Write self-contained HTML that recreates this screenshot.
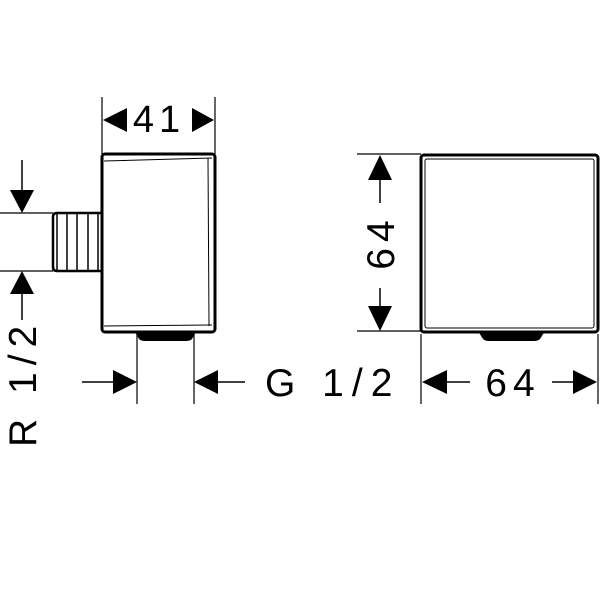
<!DOCTYPE html>
<html><head><style>body{margin:0;background:#fff}svg{display:block}</style></head>
<body>
<svg width="600" height="600" viewBox="0 0 600 600" xmlns="http://www.w3.org/2000/svg" font-family="Liberation Sans, sans-serif" fill="#000">
<g stroke="#000" fill="none">
<rect x="102" y="154" width="113" height="178" rx="3" stroke-width="3"/>
<line x1="104" y1="161" x2="212" y2="158" stroke-width="1"/>
<line x1="104" y1="326" x2="212" y2="325" stroke-width="1"/>
<line x1="208" y1="158" x2="209" y2="326" stroke-width="1"/>
<path d="M101 213 H57 Q53 213 53 217 V267 Q53 271 57 271 H101" stroke-width="2.5"/>
<line x1="57" y1="214" x2="57" y2="270" stroke-width="1.5"/>
<line x1="67" y1="214" x2="67" y2="270" stroke-width="1.5"/>
<line x1="77" y1="214" x2="77" y2="270" stroke-width="1.5"/>
<line x1="88" y1="214" x2="88" y2="270" stroke-width="1.5"/>
<line x1="98" y1="214" x2="98" y2="270" stroke-width="1.5"/>
<line x1="0" y1="213" x2="53" y2="213" stroke-width="1.2"/>
<line x1="0" y1="271" x2="53" y2="271" stroke-width="1.2"/>
<line x1="22" y1="160" x2="22" y2="195" stroke-width="1.5"/>
<line x1="22" y1="290" x2="22" y2="320" stroke-width="1.5"/>
<line x1="102" y1="97" x2="102" y2="154" stroke-width="1.2"/>
<line x1="215" y1="97" x2="215" y2="154" stroke-width="1.2"/>
<line x1="137" y1="334" x2="137" y2="404" stroke-width="1.2"/>
<line x1="194" y1="334" x2="194" y2="404" stroke-width="1.2"/>
<line x1="82" y1="382" x2="120" y2="382" stroke-width="1.5"/>
<line x1="210" y1="382" x2="245" y2="382" stroke-width="1.5"/>
<rect x="421" y="155" width="177" height="177" rx="3" stroke-width="3"/>
<rect x="425" y="159" width="169" height="169" rx="2" stroke-width="1"/>
<line x1="357" y1="154" x2="421" y2="154" stroke-width="1.2"/>
<line x1="357" y1="331" x2="421" y2="331" stroke-width="1.2"/>
<line x1="380" y1="175" x2="380" y2="203" stroke-width="1.5"/>
<line x1="380" y1="288" x2="380" y2="312" stroke-width="1.5"/>
<line x1="421" y1="334" x2="421" y2="404" stroke-width="1.2"/>
<line x1="598" y1="334" x2="598" y2="404" stroke-width="1.2"/>
<line x1="440" y1="382" x2="470" y2="382" stroke-width="1.5"/>
<line x1="552" y1="382" x2="580" y2="382" stroke-width="1.5"/>
</g>
<path d="M135 332 H196 L192 339 Q190 341 186 341 H145 Q141 341 139 339 Z"/>
<path d="M478 331 H545 L540 339 Q538 341 534 341 H489 Q485 341 483 339 Z"/>
<polygon points="103,120 127,108 127,132"/>
<polygon points="214,120 192,108 192,132"/>
<polygon points="22,213 10,190 34,190"/>
<polygon points="22,271 10,294 34,294"/>
<polygon points="137,382 113,370 113,394"/>
<polygon points="194,382 218,370 218,394"/>
<polygon points="380,155 368,180 392,180"/>
<polygon points="380,331 368,306 392,306"/>
<polygon points="422,382 447,370 447,394"/>
<polygon points="597,382 573,370 573,394"/>
<text x="159" y="132" font-size="38" text-anchor="middle" letter-spacing="5">41</text>
<text x="265" y="396" font-size="39" letter-spacing="8">G 1/2</text>
<text x="513" y="396" font-size="39" text-anchor="middle" letter-spacing="6">64</text>
<text transform="translate(394,242) rotate(-90)" font-size="39" text-anchor="middle" letter-spacing="6">64</text>
<text transform="translate(36,447) rotate(-90)" font-size="39" letter-spacing="7">R 1/2</text>
</svg>
</body></html>
